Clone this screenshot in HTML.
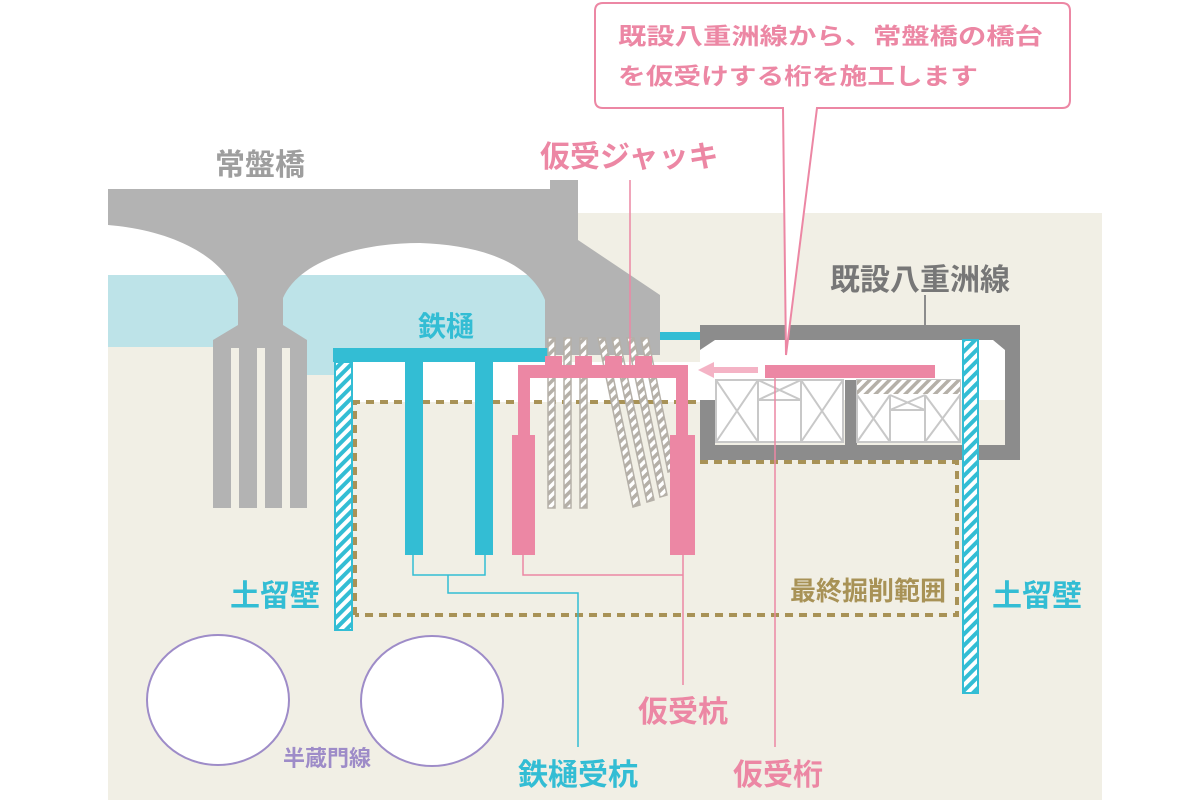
<!DOCTYPE html>
<html><head><meta charset="utf-8"><style>
html,body{margin:0;padding:0;background:#fff;}
svg{display:block;font-family:"Liberation Sans","Noto Sans CJK JP",sans-serif;font-weight:bold;}
</style></head><body>
<svg width="1200" height="800" viewBox="0 0 1200 800" xmlns="http://www.w3.org/2000/svg">
<defs>
<pattern id="hc" width="8" height="8" patternUnits="userSpaceOnUse" patternTransform="rotate(45)">
<rect width="8" height="8" fill="#fff"/><rect width="4" height="8" fill="#33bdd4"/></pattern>
<pattern id="hg" width="7" height="7" patternUnits="userSpaceOnUse" patternTransform="rotate(45)">
<rect width="7" height="7" fill="#fff"/><rect width="3.5" height="7" fill="#b5b0a8"/></pattern>
</defs>
<rect x="108" y="213" width="994" height="587" fill="#f1efe5"/>
<rect x="108" y="213" width="470" height="62" fill="#fff"/>
<rect x="108" y="275" width="445" height="72" fill="#bde3e8"/>
<rect x="300" y="340" width="250" height="35" fill="#bde3e8"/>
<rect x="352" y="362" width="196" height="40" fill="#fff"/>
<rect x="540" y="362" width="160" height="40" fill="#fff"/>
<rect x="700" y="340" width="305" height="60" fill="#fff"/>
<path d="M108 189 H550 V180 H578 V240 L660 295 V355 H545 V300 C530 262 480 245 420 243 C360 243 300 260 283 298 V325 L307 340 V508 H213 V340 L238 325 V298 C225 255 170 230 108 225 Z" fill="#b3b3b3"/>
<rect x="231" y="348" width="8" height="160" fill="#f1efe5"/>
<rect x="257" y="348" width="8" height="160" fill="#f1efe5"/>
<rect x="282" y="348" width="8" height="160" fill="#f1efe5"/>
<path d="M700 325 H1020 V460 H700 V400 H715 V445 H1005 V350 L993 340 H715 L700 350 Z" fill="#8c8c8c"/>
<rect x="845" y="380" width="12" height="65" fill="#8c8c8c"/>
<g fill="#fff" stroke="#c8c8c8" stroke-width="2">
<rect x="716" y="380" width="127" height="62"/><rect x="857" y="380" width="103" height="62"/></g>
<g stroke="#c8c8c8" stroke-width="2" fill="none">
<path d="M716 380 L758 442 M758 380 L716 442 M801 380 L843 442 M843 380 L801 442 M758 380 V442 M801 380 V442 M758 400 H801 M758 380 L801 400 M801 380 L758 400"/>
<path d="M857 395 L890 442 M890 395 L857 442 M925 395 L960 442 M960 395 L925 442 M890 395 V442 M925 395 V442 M890 410 H925 M890 395 L925 410 M925 395 L890 410"/>
</g>
<rect x="857" y="380" width="103" height="14" fill="url(#hg)"/>
<path d="M355 615 V402 H700 M700 462 H957 V615 H355" fill="none" stroke="#a89256" stroke-width="4" stroke-dasharray="8 6"/>
<rect x="333" y="348" width="215" height="14" fill="#33bdd4"/>
<rect x="660" y="332" width="40" height="8" fill="#33bdd4"/>
<rect x="405" y="362" width="18" height="193" fill="#33bdd4"/>
<rect x="475" y="362" width="18" height="193" fill="#33bdd4"/>
<rect x="335" y="362" width="17" height="268" fill="url(#hc)" stroke="#33bdd4" stroke-width="2"/>
<rect x="963" y="340" width="15" height="353" fill="url(#hc)" stroke="#33bdd4" stroke-width="2"/>
<g fill="url(#hg)" stroke="#b5b0a8" stroke-width="1.5">
<rect x="548" y="338" width="7" height="170"/><rect x="564" y="338" width="7" height="170"/><rect x="580" y="338" width="7" height="170"/>
<polygon points="598,338 605,338 640,505 633,507"/><polygon points="612,338 619,338 654,500 647,502"/><polygon points="627,338 634,338 667,495 660,497"/><polygon points="641,338 648,338 675,470 668,472"/>
</g>
<g fill="#ec87a4">
<rect x="518" y="365" width="170" height="13"/>
<rect x="518" y="365" width="12" height="72"/><rect x="676" y="365" width="12" height="72"/>
<rect x="512" y="435" width="23" height="120"/><rect x="670" y="435" width="25" height="120"/>
<rect x="545" y="356" width="17" height="10"/><rect x="575" y="356" width="17" height="10"/><rect x="605" y="356" width="17" height="10"/><rect x="635" y="356" width="17" height="10"/>
<rect x="765" y="365" width="170" height="13"/>
</g>
<path d="M758 370 H712" stroke="#f4b3c5" stroke-width="6"/>
<polygon points="698,370 714,362 714,378" fill="#f4b3c5"/>
<g fill="none" stroke-width="1.5">
<path d="M413 555 V575 H485 V555 M448 575 V593 H578 V747" stroke="#33bdd4"/>
<path d="M523 555 V575 H683 V555 M683 575 V685 M775 378 V747" stroke="#ec87a4"/>
<path d="M630 180 V365" stroke="#ec87a4"/>
<path d="M925 295 V325" stroke="#8c8c8c" stroke-width="2"/>
</g>
<ellipse cx="218" cy="700" rx="71" ry="65" fill="#fff" stroke="#9e8cc8" stroke-width="2"/>
<ellipse cx="432" cy="701" rx="71" ry="65" fill="#fff" stroke="#9e8cc8" stroke-width="2"/>
<path d="M603 3 H1062 Q1070 3 1070 11 V100 Q1070 108 1062 108 H817 L786 355 L783 108 H603 Q595 108 595 100 V11 Q595 3 603 3 Z" fill="#fff" stroke="#ec87a4" stroke-width="2"/>
<g fill="#ec87a4" font-size="23">
<text x="618" y="44" textLength="425" lengthAdjust="spacingAndGlyphs">既設八重洲線から、常盤橋の橋台</text>
<text x="618" y="84" textLength="360" lengthAdjust="spacingAndGlyphs">を仮受けする桁を施工します</text>
</g>
<g font-size="30">
<text x="215" y="175" fill="#9e9e9e">常盤橋</text>
<text x="540" y="167" fill="#ec87a4">仮受ジャッキ</text>
<text x="830" y="290" fill="#777">既設八重洲線</text>
<text x="418" y="336" fill="#33bdd4" font-size="28">鉄樋</text>
<text x="230" y="606" fill="#33bdd4">土留壁</text>
<text x="992" y="606" fill="#33bdd4">土留壁</text>
<text x="638" y="722" fill="#ec87a4">仮受杭</text>
<text x="518" y="785" fill="#33bdd4">鉄樋受杭</text>
<text x="733" y="785" fill="#ec87a4">仮受桁</text>
</g>
<text x="790" y="600" fill="#a89256" font-size="26">最終掘削範囲</text>
<text x="283" y="766" fill="#9e8cc8" font-size="22">半蔵門線</text>
</svg>
</body></html>
